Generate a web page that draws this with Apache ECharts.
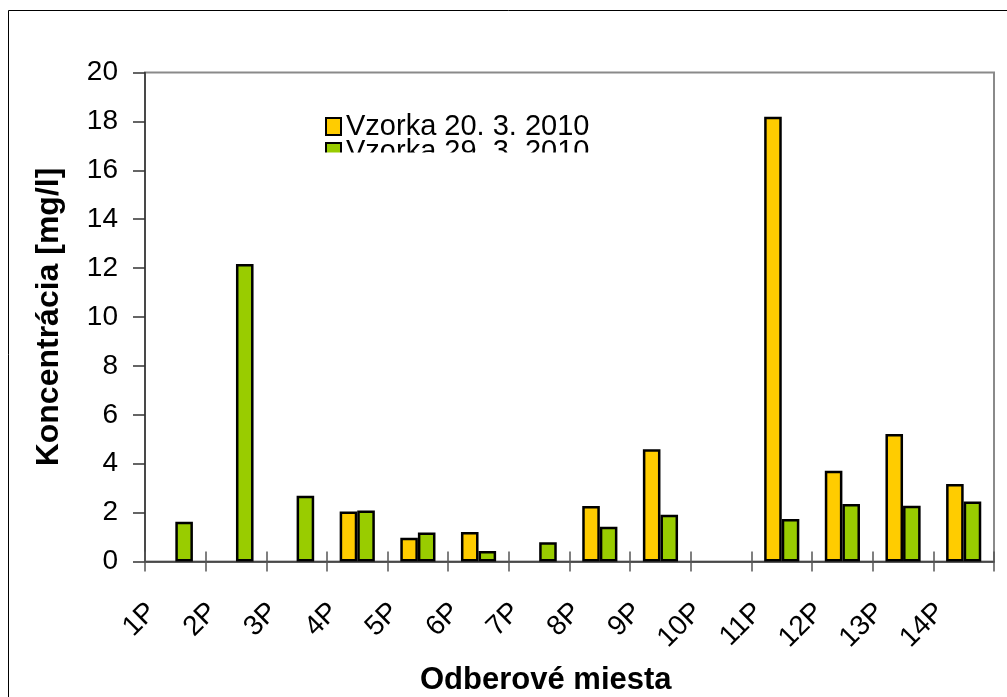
<!DOCTYPE html>
<html>
<head>
<meta charset="utf-8">
<script src="https://cdn.jsdelivr.net/npm/echarts@6/dist/echarts.min.js"></script>
<style>
  html, body { margin: 0; padding: 0; background: #fff; }
  #chart { width: 1007px; height: 697px; }
</style>
</head>
<body>
<div id="chart"></div>
<script>
// Sampling sites and measured concentrations [mg/l]
const categories = ['1P', '2P', '3P', '4P', '5P', '6P', '7P', '8P', '9P', '10P', '11P', '12P', '13P', '14P'];
const sampleNames = ['Vzorka 20. 3. 2010', 'Vzorka 29. 3. 2010'];
const sample1 = [null, null, null, 2.05, 0.97, 1.21, null, 2.27, 4.59, null, 18.19, 3.71, 5.21, 3.17];
const sample2 = [1.63, 12.17, 2.69, 2.09, 1.19, 0.43, 0.79, 1.42, 1.91, null, 1.74, 2.35, 2.28, 2.45];

const FONT = 'Liberation Sans, Arial, sans-serif';
const GRID = { left: 145, top: 72.5, width: 849, height: 489 };

function legendEntry(name, top) {
  return {
    orient: 'vertical',
    left: 320,
    top: top,
    itemWidth: 15,
    itemHeight: 17,
    icon: 'rect',
    data: [name],
    textStyle: { fontFamily: FONT, fontSize: 29, color: '#000' }
  };
}

const chart = echarts.init(document.getElementById('chart'));

chart.setOption({
  animation: false,
  backgroundColor: '#fff',
  textStyle: { fontFamily: FONT },
  title: {
    text: 'Odberové miesta',
    left: 415,
    top: 660,
    textStyle: { fontFamily: FONT, fontSize: 31, fontWeight: 'bold', color: '#000' }
  },
  legend: [legendEntry(sampleNames[0], 107), legendEntry(sampleNames[1], 132)],
  grid: [
    Object.assign({ show: true, borderColor: '#8a8a8a', borderWidth: 2, backgroundColor: 'transparent' }, GRID),
    Object.assign({}, GRID, { left: GRID.left + 7 })
  ],
  xAxis: [
    {
      // bars axis: inner half of the crossing ticks
      type: 'category',
      gridIndex: 0,
      position: 'bottom',
      data: categories,
      boundaryGap: true,
      axisLine: { lineStyle: { color: '#333', width: 1.5 } },
      axisTick: { show: true, inside: true, length: 10, lineStyle: { color: '#555', width: 1.5 } },
      axisLabel: { show: false }
    },
    {
      // outer half of the crossing ticks at category boundaries
      type: 'category',
      gridIndex: 0,
      position: 'bottom',
      data: categories.concat(['']),
      boundaryGap: false,
      axisLine: { show: false },
      axisTick: { show: true, inside: false, length: 10, interval: 0, lineStyle: { color: '#555', width: 1.5 } },
      axisLabel: { show: false }
    },
    {
      // site labels, set on the category boundaries
      type: 'category',
      gridIndex: 1,
      position: 'bottom',
      data: categories.concat(['']),
      boundaryGap: false,
      axisLine: { show: false },
      axisTick: { show: false },
      axisLabel: { interval: 0, rotate: 45, margin: 46, fontFamily: FONT, fontSize: 28, color: '#000' }
    }
  ],
  yAxis: [
    {
      type: 'value',
      gridIndex: 0,
      min: 0,
      max: 20,
      interval: 2,
      name: 'Koncentrácia [mg/l]',
      nameLocation: 'middle',
      nameRotate: 90,
      nameGap: 80,
      nameTextStyle: { fontFamily: FONT, fontSize: 32, fontWeight: 'bold', color: '#000' },
      axisLine: { show: true, lineStyle: { color: '#333', width: 1.5 } },
      axisTick: { show: true, inside: false, length: 12, lineStyle: { color: '#333', width: 1.5 } },
      axisLabel: { margin: 27, fontFamily: FONT, fontSize: 28, color: '#000' },
      splitLine: { show: false }
    },
    { type: 'value', gridIndex: 1, show: false, min: 0, max: 20 }
  ],
  series: [
    {
      name: sampleNames[0],
      type: 'bar',
      xAxisIndex: 0,
      yAxisIndex: 0,
      data: sample1,
      barGap: '0%',
      barCategoryGap: '42%',
      itemStyle: { color: '#FFCC00', borderColor: '#000', borderWidth: 2.5 }
    },
    {
      name: sampleNames[1],
      type: 'bar',
      xAxisIndex: 0,
      yAxisIndex: 0,
      data: sample2,
      barGap: '0%',
      barCategoryGap: '42%',
      itemStyle: { color: '#99CC00', borderColor: '#000', borderWidth: 2.5 }
    }
  ],
  graphic: [
    {
      // outer chart frame
      type: 'rect',
      z: 100,
      silent: true,
      shape: { x: 8.5, y: 10.5, width: 1200, height: 900 },
      style: { fill: null, stroke: '#000', lineWidth: 1 }
    },
    {
      // legend box clips its second entry
      type: 'rect',
      z: 100,
      silent: true,
      shape: { x: 312, y: 152.5, width: 300, height: 22 },
      style: { fill: '#fff' }
    }
  ]
});
</script>
</body>
</html>
